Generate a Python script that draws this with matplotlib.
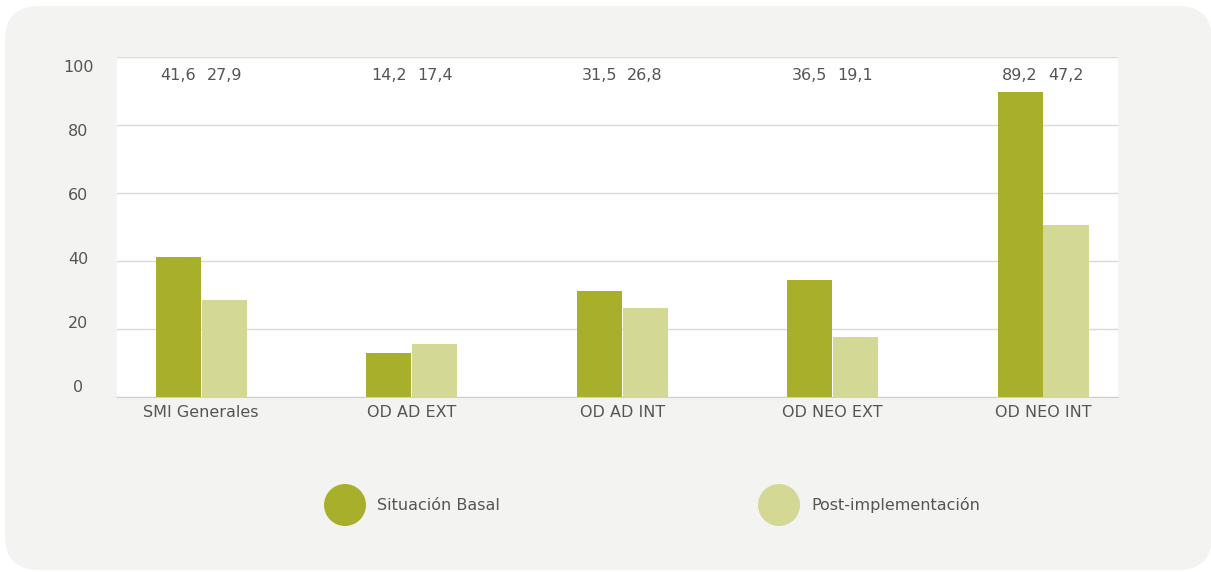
import matplotlib.pyplot as plt
from matplotlib.patches import FancyBboxPatch, Ellipse
from matplotlib.transforms import IdentityTransform, ScaledTranslation

categorias = ["SMI Generales", "OD AD EXT", "OD AD INT", "OD NEO EXT", "OD NEO INT"]
# alturas de barras
basal = [40.9, 12.7, 30.9, 34.2, 89.5]
post = [28.3, 15.3, 25.9, 17.4, 50.4]
# etiquetas tal como aparecen
etiq_basal = ["41,6", "14,2", "31,5", "36,5", "89,2"]
etiq_post = ["27,9", "17,4", "26,8", "19,1", "47,2"]
yticks = [0, 20, 40, 60, 80, 100]

c_basal = "#a8b02b"
c_post = "#d3d895"
c_txt = "#555555"

W, H = 1211, 572
fig = plt.figure(figsize=(W / 100, H / 100), dpi=100)
fig.patch.set_facecolor("white")

# tarjeta gris redondeada (en pixeles)
card = FancyBboxPatch((5, 2), W - 5 + 1, H - 6 - 2,
                      boxstyle="round,pad=0,rounding_size=34",
                      transform=IdentityTransform(), facecolor="#f3f3f1",
                      edgecolor="none", zorder=-10)
fig.add_artist(card)

ax = fig.add_axes([117 / W, 1 - 396.5 / H, (1118 - 117) / W, (396.5 - 56.5) / H])
ax.set_facecolor("white")

x = range(len(categorias))
w = 0.214
xb = [i - w / 2 - 0.002 for i in x]
xp = [i + w / 2 + 0.002 for i in x]
ax.bar(xb, basal, width=w, color=c_basal, zorder=3)
ax.bar(xp, post, width=w, color=c_post, zorder=3)

for i in x:
    ax.text(xb[i], 94.5, etiq_basal[i], ha="center", va="center", fontsize=11.5, color=c_txt)
    ax.text(xp[i], 94.5, etiq_post[i], ha="center", va="center", fontsize=11.5, color=c_txt)

ax.set_xlim(-0.40, 4.356)
ax.set_ylim(0, 100)
ax.set_yticks(yticks)
ax.set_yticklabels([str(v) for v in yticks], fontsize=11.5, color=c_txt, ha="center")
ax.tick_params(axis="y", length=0, pad=28)
# en el original las etiquetas del eje y estan algo comprimidas respecto a la rejilla
for v, lbl in zip(yticks, ax.get_yticklabels()):
    dy = (10 - 0.195 * v) / 100
    lbl.set_transform(lbl.get_transform() + ScaledTranslation(0, dy, fig.dpi_scale_trans))
ax.set_xticks(list(x))
ax.set_xticklabels(categorias, fontsize=11.5, color=c_txt)
ax.tick_params(axis="x", length=0, pad=6)
ax.grid(axis="y", color="#d9d9d9", linewidth=1, zorder=0)
for s in ["left", "right", "top"]:
    ax.spines[s].set_visible(False)
ax.spines["bottom"].set_color("#cfcfcf")

# leyenda
for cx, col, lab in [(345, c_basal, "Situación Basal"), (779, c_post, "Post-implementación")]:
    fig.add_artist(Ellipse((cx / W, 1 - 505 / H), 42 / W, 42 / H,
                           transform=fig.transFigure, facecolor=col, edgecolor="none"))
    fig.text((cx + 32) / W, 1 - 505 / H, lab, ha="left", va="center",
             fontsize=11.5, color=c_txt)

fig.savefig("out.png", dpi=100)
